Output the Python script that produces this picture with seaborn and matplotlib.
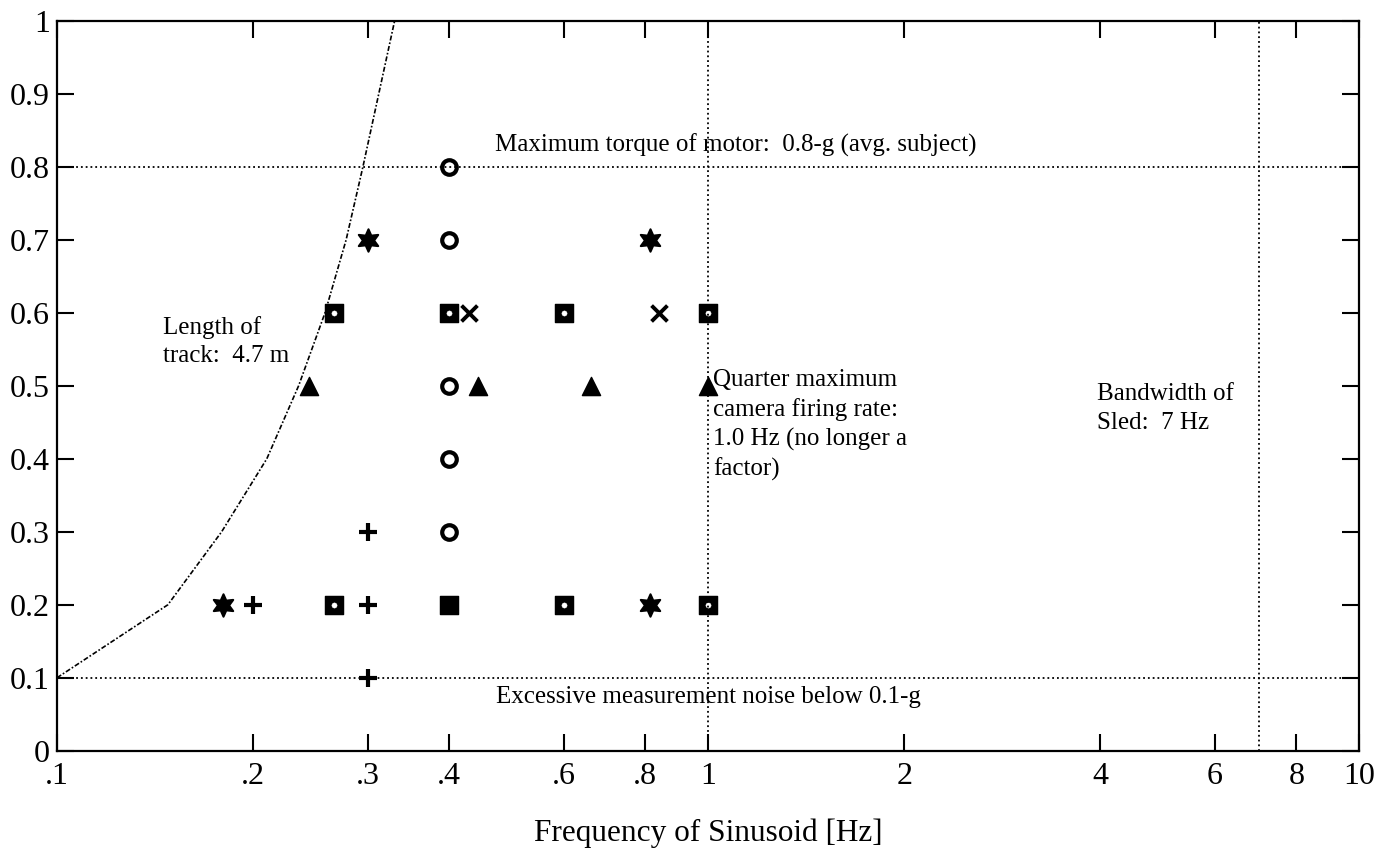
import numpy as np
import pandas as pd
import matplotlib
matplotlib.use('Agg')
import matplotlib.pyplot as plt
import seaborn as sns

# pontos medidos (frequencia [Hz], aceleracao [g]) por tipo de marcador
star_f = [0.18, 0.815, 0.3, 0.815]
star_a = [0.2, 0.2, 0.7, 0.7]
plus_f = [0.2, 0.3, 0.3, 0.3]
plus_a = [0.2, 0.2, 0.3, 0.1]
square_f = [0.266, 0.4, 0.6, 1.0, 0.266, 0.4, 0.6, 1.0]
square_a = [0.2, 0.2, 0.2, 0.2, 0.6, 0.6, 0.6, 0.6]
hole_f = [0.266, 0.6, 1.0, 0.266, 0.4, 0.6, 1.0]
hole_a = [0.2, 0.2, 0.2, 0.6, 0.6, 0.6, 0.6]
circle_f = [0.4, 0.4, 0.4, 0.4, 0.4]
circle_a = [0.3, 0.4, 0.5, 0.7, 0.8]
tri_f = [0.244, 0.443, 0.661, 1.0]
tri_a = [0.5, 0.5, 0.5, 0.5]
x_f = [0.429, 0.84]
x_a = [0.6, 0.6]

# limite do trilho (4.7 m)
track_f = [0.1, 0.148, 0.179, 0.21, 0.235, 0.258, 0.278, 0.295, 0.312, 0.33]
track_a = [0.1, 0.2, 0.3, 0.4, 0.5, 0.6, 0.7, 0.8, 0.9, 1.0]

xticks = [0.1, 0.2, 0.3, 0.4, 0.6, 0.8, 1, 2, 4, 6, 8, 10]
xticklabels = ['.1', '.2', '.3', '.4', '.6', '.8', '1', '2', '4', '6', '8', '10']
yticks = [0, 0.1, 0.2, 0.3, 0.4, 0.5, 0.6, 0.7, 0.8, 0.9, 1]
yticklabels = ['0', '0.1', '0.2', '0.3', '0.4', '0.5', '0.6', '0.7', '0.8', '0.9', '1']

sns.set_style("ticks")
plt.rcParams['font.family'] = ['Liberation Serif', 'DejaVu Serif']
plt.rcParams['text.color'] = 'black'
plt.rcParams['axes.labelcolor'] = 'black'
plt.rcParams['xtick.color'] = 'black'
plt.rcParams['ytick.color'] = 'black'

fig = plt.figure(figsize=(13.9, 8.61), dpi=100)
ax = fig.add_axes([0.041, 0.128, 0.937, 0.848])

# linhas de referencia
ax.axhline(0.8, color='black', ls=':', lw=1.3)
ax.axhline(0.1, color='black', ls=':', lw=1.3)
ax.axvline(1.0, color='black', ls=':', lw=1.3)
ax.axvline(7.0, color='black', ls=':', lw=1.3)
sns.lineplot(x=track_f, y=track_a, ax=ax, color='black', lw=1.2,
             linestyle=(0, (3, 1.2, 1, 1.2)), sort=False)

sns.scatterplot(x=star_f, y=star_a, ax=ax, marker=(6, 1, 0), s=260,
                color='black', edgecolor='black', linewidth=1.5)
sns.scatterplot(x=plus_f, y=plus_a, ax=ax, marker='+', s=160,
                color='black', linewidth=3)
sns.scatterplot(x=square_f, y=square_a, ax=ax, marker='s', s=170,
                color='black', edgecolor='black')
sns.scatterplot(x=hole_f, y=hole_a, ax=ax, marker='o', s=14,
                color='white', edgecolor='white')
sns.scatterplot(x=circle_f, y=circle_a, ax=ax, marker='o', s=110,
                facecolor='white', edgecolor='black', linewidth=3)
sns.scatterplot(x=tri_f, y=tri_a, ax=ax, marker='^', s=170,
                color='black', edgecolor='black')
sns.scatterplot(x=x_f, y=x_a, ax=ax, marker='x', s=130,
                color='black', linewidth=2.8)

ax.set_xscale('log')
ax.set_xlim(0.1, 10)
ax.set_ylim(0, 1)
ax.xaxis.set_minor_locator(matplotlib.ticker.NullLocator())
ax.set_xticks(xticks)
ax.set_xticklabels(xticklabels)
ax.set_yticks(yticks)
ax.set_yticklabels(yticklabels)
ax.tick_params(axis='both', direction='in', length=12, width=1.5,
               labelsize=23, top=True, right=True, color='black')
ax.tick_params(axis='x', pad=8)
ax.tick_params(axis='y', pad=5)
for sp in ax.spines.values():
    sp.set_linewidth(1.6)
    sp.set_color('black')

ax.set_xlabel('Frequency of Sinusoid [Hz]', fontsize=22.5, labelpad=20)

fs = 18
ax.text(0.471, 0.829, 'Maximum torque of motor:  0.8-g (avg. subject)',
        fontsize=fs, va='center', ha='left')
ax.text(0.1455, 0.596, 'Length of\ntrack:  4.7 m', fontsize=fs,
        va='top', ha='left', linespacing=1.4)
ax.text(1.018, 0.523, 'Quarter maximum\ncamera firing rate:\n1.0 Hz (no longer a\nfactor)',
        fontsize=fs, va='top', ha='left', linespacing=1.38)
ax.text(3.96, 0.504, 'Bandwidth of\nSled:  7 Hz', fontsize=fs,
        va='top', ha='left', linespacing=1.4)
ax.text(1.0, 0.074, 'Excessive measurement noise below 0.1-g',
        fontsize=fs, va='center', ha='center')

fig.savefig('out.png', dpi=100)
